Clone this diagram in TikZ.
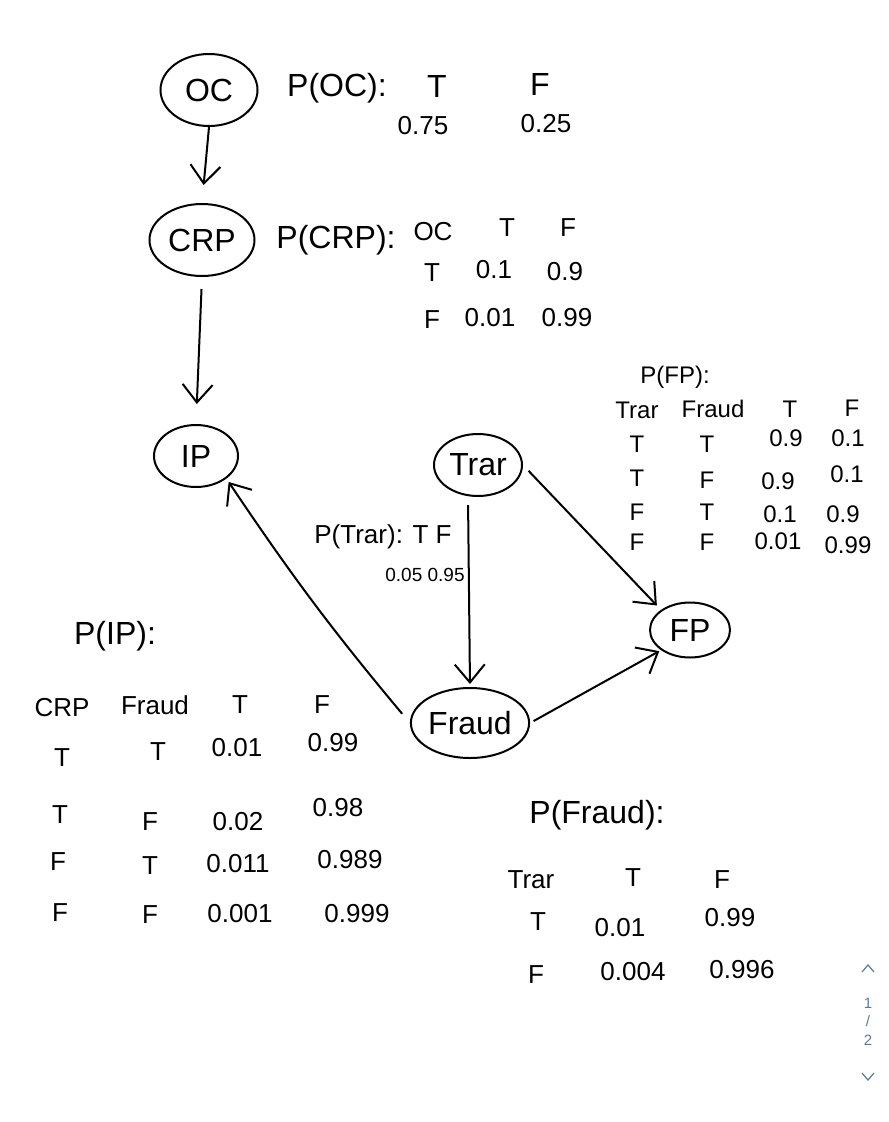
\documentclass[tikz,border=0pt]{standalone}
\usepackage{fontspec}
\setmainfont{Liberation Sans}
\usetikzlibrary{shapes.geometric,arrows.meta}
\definecolor{pgcol}{HTML}{5B7A9E}
\begin{document}
\begin{tikzpicture}[x=1pt,y=-1pt,
  nd/.style={draw,ellipse,line width=2pt,inner sep=0pt,font=\fontsize{32}{38}\selectfont},
  big/.style={font=\fontsize{32}{38}\selectfont,inner sep=0pt},
  mid/.style={font=\fontsize{26}{30}\selectfont,inner sep=0pt},
  tb/.style={font=\fontsize{24}{28}\selectfont,inner sep=0pt},
  sm/.style={font=\fontsize{19}{22}\selectfont,inner sep=0pt},
  arr/.style={line width=2pt,-{Straight Barb[length=18pt,width=30pt,line width=2pt]}},
  pg/.style={text=pgcol,font=\fontsize{15}{18}\selectfont,inner sep=0pt},
  chev/.style={draw=pgcol,line width=1.2pt}]
\fill[white] (0,0) rectangle (889,1122);
\useasboundingbox (0,0) rectangle (889,1122);

% nodes
\node[nd,minimum width=97pt,minimum height=72pt] (OC) at (209,90) {OC};
\node[nd,minimum width=105pt,minimum height=72pt] (CRP) at (202,240) {CRP};
\node[nd,minimum width=84pt,minimum height=62pt] (IP) at (196,456) {IP};
\node[nd,minimum width=88pt,minimum height=62pt] (Trar) at (478,465) {Trar};
\node[nd,minimum width=80pt,minimum height=55pt] (FP) at (690,630) {FP};
\node[nd,minimum width=115pt,minimum height=70pt] (Fraud) at (470,723) {Fraud};

% connectors
\draw[arr,shorten >=18pt] (OC.south) -- (CRP.north);
\draw[arr,shorten <=12pt,shorten >=20pt] (CRP.south) -- (IP.north);
\draw[arr,shorten <=8pt,shorten >=3pt] ([xshift=-10pt]Trar.south) -- (Fraud.north);
\draw[arr,shorten <=8pt,shorten >=6pt] (Trar.east) -- (FP.north west);
\draw[arr,shorten <=4pt,shorten >=2pt] (Fraud.east) -- (FP.south west);
\draw[arr,shorten <=12pt,shorten >=4pt] (Fraud.west) to[bend left=3] (IP.south east);

% P(OC)
\node[big] (poc) at (337,88) {P(OC):};
\node[big] (pocT) at (437,86) {T};
\node[big] (pocF) at (540,84) {F};
\node[mid] (poc1) at (423,126) {0.75};
\node[mid] (poc2) at (546,124) {0.25};

% P(CRP)
\node[big] (pcrp) at (336,240) {P(CRP):};
\node[mid] (pcrpH) at (433,232) {OC};
\node[mid] (pcrpT) at (507,228) {T};
\node[mid] (pcrpF) at (568,228) {F};
\node[mid] (pcrpa) at (432,273) {T};
\node[mid] (pcrpb) at (494,270) {0.1};
\node[mid] (pcrpc) at (565,272) {0.9};
\node[mid] (pcrpd) at (432,320) {F};
\node[mid] (pcrpe) at (490,318) {0.01};
\node[mid] (pcrpf) at (567,318) {0.99};

% P(FP)
\node[tb] (pfp) at (675,377) {P(FP):};
\node[tb] (pfp1) at (637,410) {Trar};
\node[tb] (pfp2) at (713,409) {Fraud};
\node[tb] (pfp3) at (790,409) {T};
\node[tb] (pfp4) at (852,408) {F};
\node[tb] (r1a) at (637,444) {T};
\node[tb] (r1b) at (707,444) {T};
\node[tb] (r1c) at (786,438) {0.9};
\node[tb] (r1d) at (848,438) {0.1};
\node[tb] (r2a) at (637,478) {T};
\node[tb] (r2b) at (707,480) {F};
\node[tb] (r2c) at (778,481) {0.9};
\node[tb] (r2d) at (847,474) {0.1};
\node[tb] (r3a) at (637,512) {F};
\node[tb] (r3b) at (707,512) {T};
\node[tb] (r3c) at (780,514) {0.1};
\node[tb] (r3d) at (843,514) {0.9};
\node[tb] (r4a) at (637,542) {F};
\node[tb] (r4b) at (707,542) {F};
\node[tb] (r4c) at (778,541) {0.01};
\node[tb] (r4d) at (848,545) {0.99};

% P(Trar)
\node[mid] (ptr) at (383,537) {P(Trar): T F};
\node[sm] (ptr2) at (425,575) {0.05 0.95};

% P(IP)
\node[big] (pip) at (115,636) {P(IP):};
\node[mid] (pipH1) at (62,708) {CRP};
\node[mid] (pipH2) at (155,705) {Fraud};
\node[mid] (pipH3) at (240,705) {T};
\node[mid] (pipH4) at (322,705) {F};
\node[mid] (i1a) at (62,758) {T};
\node[mid] (i1b) at (158,752) {T};
\node[mid] (i1c) at (237,748) {0.01};
\node[mid] (i1d) at (333,743) {0.99};
\node[mid] (i2a) at (60,815) {T};
\node[mid] (i2b) at (150,822) {F};
\node[mid] (i2c) at (238,822) {0.02};
\node[mid] (i2d) at (338,808) {0.98};
\node[mid] (i3a) at (58,862) {F};
\node[mid] (i3b) at (150,866) {T};
\node[mid] (i3c) at (238,864) {0.011};
\node[mid] (i3d) at (350,860) {0.989};
\node[mid] (i4a) at (60,913) {F};
\node[mid] (i4b) at (150,915) {F};
\node[mid] (i4c) at (240,914) {0.001};
\node[mid] (i4d) at (357,914) {0.999};

% P(Fraud)
\node[big] (pfr) at (597,815) {P(Fraud):};
\node[mid] (pfrH1) at (531,880) {Trar};
\node[mid] (pfrH2) at (633,878) {T};
\node[mid] (pfrH3) at (722,880) {F};
\node[mid] (f1a) at (538,922) {T};
\node[mid] (f1b) at (620,928) {0.01};
\node[mid] (f1c) at (730,918) {0.99};
\node[mid] (f2a) at (536,975) {F};
\node[mid] (f2b) at (633,972) {0.004};
\node[mid] (f2c) at (742,970) {0.996};

% page indicator
\draw[chev] (862,972) -- (868,965) -- (874,972);
\node[pg] (pg1) at (868,1003) {1};
\node[pg] (pgs) at (868,1021) {/};
\node[pg] (pg2) at (868,1040) {2};
\draw[chev] (862,1073) -- (868,1080) -- (874,1073);
\end{tikzpicture}
\end{document}
